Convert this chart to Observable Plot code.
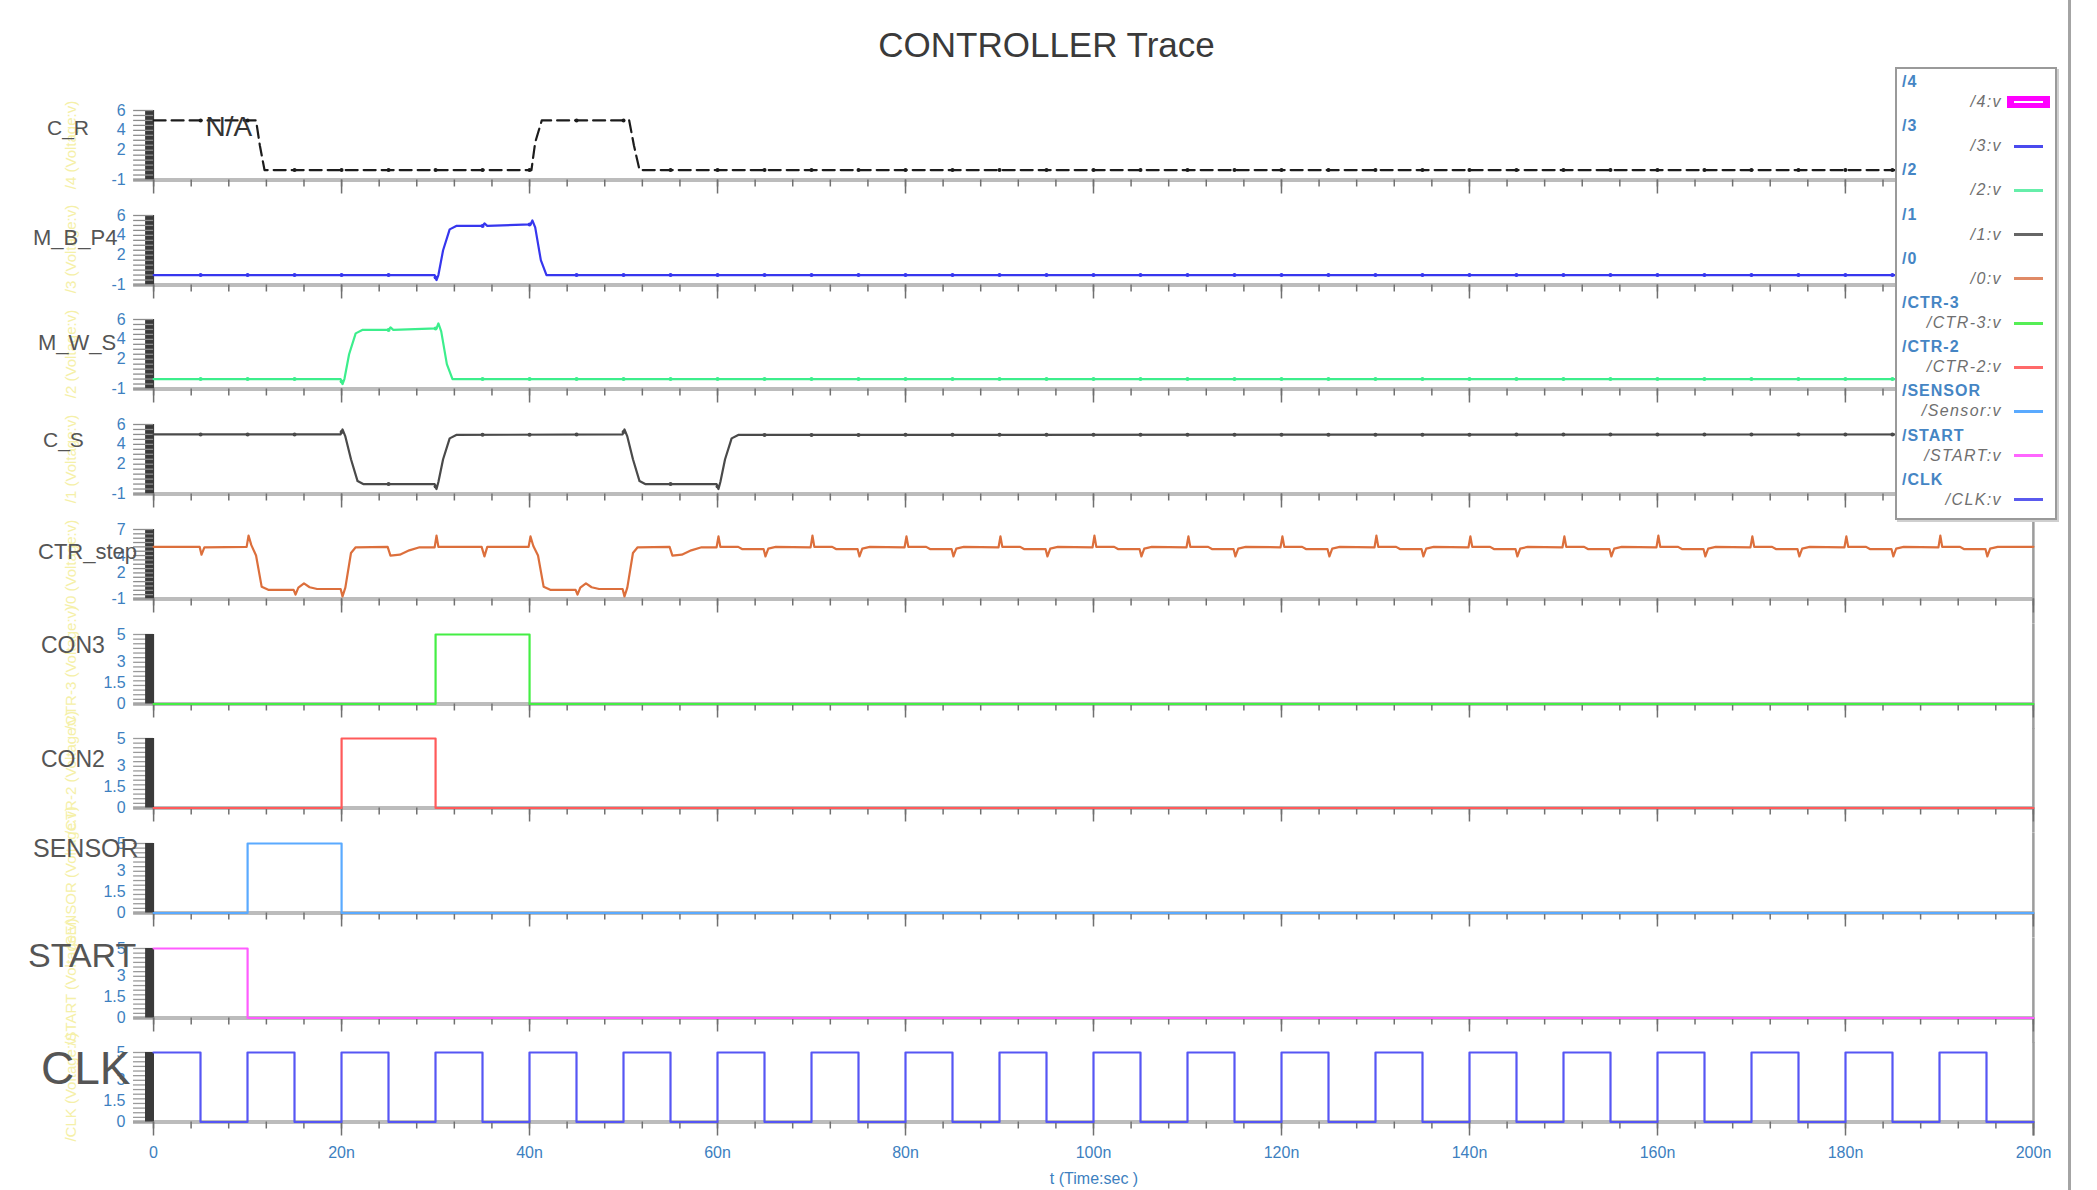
<!DOCTYPE html>
<html><head><meta charset="utf-8">
<script src="https://cdn.jsdelivr.net/npm/d3@7"></script>
<script src="https://cdn.jsdelivr.net/npm/@observablehq/plot@0.6"></script>
<style>
body{margin:0;background:#fff;font-family:"Liberation Sans",Arial,sans-serif;}
#root{position:relative;width:2097px;height:1190px;overflow:hidden;background:#fff;}
.abs{position:absolute;white-space:nowrap;line-height:1;}
</style></head><body><div id="root"></div>
<script>
// ---------------- DATA ----------------
const chartTitle = "CONTROLLER Trace";
const xAxisTitle = "t (Time:sec )";
const signalNames = ["C_R","M_B_P4","M_W_S","C_S","CTR_step","CON3","CON2","SENSOR","START","CLK"];
const legendHeads = ["/4","/3","/2","/1","/0","/CTR-3","/CTR-2","/SENSOR","/START","/CLK"];
const legendSubs  = ["/4:v","/3:v","/2:v","/1:v","/0:v","/CTR-3:v","/CTR-2:v","/Sensor:v","/START:v","/CLK:v"];

// time in ns, value in volts
const tCR = [0,10.9,11.3,11.8,40.2,40.6,41.3,50.6,51.1,51.7,200];
const vCR = [5,5,2.5,0,0,2.8,5,5,2.5,0,0];

const tMBP = [0,29.9,30.1,30.3,30.8,31.5,32.2,35,35.2,35.5,40.1,40.3,40.6,41.2,41.8,200];
const vMBP = [0,0,-0.5,0,2.5,4.6,4.95,4.95,5.2,4.95,5.1,5.5,4.8,1.5,0,0];

const tMWS = [0,19.9,20.1,20.3,20.8,21.5,22.2,25,25.2,25.5,30.1,30.3,30.6,31.2,31.8,200];
const vMWS = [0,0,-0.5,0,2.5,4.6,4.95,4.95,5.2,4.95,5.1,5.6,4.8,1.5,0,0];

const tCS = [0,19.9,20.1,20.4,21.0,21.7,22.3,29.9,30.1,30.3,30.8,31.5,32.2,49.9,50.1,50.4,51.0,51.7,52.3,59.9,60.1,60.3,60.8,61.5,62.2,200];
const vCS = [5,5,5.5,4.8,2.5,0.3,0,0,-0.5,0.2,2.5,4.6,4.95,5,5.5,4.8,2.5,0.3,0,0,-0.5,0.2,2.5,4.6,4.95,5];

const ctrPoints = [
  [0,5.0],[4.9,5.0],[5.1,4.1],[5.4,4.95],[9.9,5.0],[10.1,6.3],[10.4,5.2],[10.9,4.0],[11.5,0.4],[12.2,0.05],
  [14.9,0.05],[15.1,-0.5],[15.4,0.3],[16.0,0.8],[16.6,0.35],[17.4,0.15],[19.9,0.15],[20.1,-0.7],[20.4,0.3],[21.0,4.3],[21.5,4.95],
  [24.9,5.0],[25.2,4.0],[26.2,4.1],[27.2,4.6],[28.3,4.95],[29.9,4.95],[30.1,6.3],[30.3,5.0],[34.9,5.0],[35.2,3.9],[35.5,5.0],
  [39.9,5.0],[40.1,6.2],[40.4,5.1],[40.9,4.0],[41.5,0.4],[42.2,0.05],
  [44.9,0.05],[45.1,-0.5],[45.4,0.3],[46.0,0.8],[46.6,0.35],[47.4,0.15],[49.9,0.15],[50.1,-0.7],[50.4,0.3],[51.0,4.3],[51.5,4.95],
  [54.9,5.0],[55.2,4.0],[56.2,4.1],[57.2,4.6],[58.3,4.95],
  [59.9,4.95],[60.1,6.2],[60.3,5.0],[62.2,5.0],[62.6,4.75],[64.9,4.75],[65.1,3.9],[65.4,4.8],[66.2,5.0],
  [69.9,4.95],[70.1,6.3],[70.3,5.0],[72.2,5.0],[72.6,4.75],[74.9,4.75],[75.1,3.9],[75.4,4.8],[76.2,5.0],
  [79.9,4.95],[80.1,6.2],[80.3,5.0],[82.2,5.0],[82.6,4.75],[84.9,4.75],[85.1,3.9],[85.4,4.8],[86.2,5.0],
  [89.9,4.95],[90.1,6.2],[90.3,5.0],[92.2,5.0],[92.6,4.75],[94.9,4.75],[95.1,3.9],[95.4,4.8],[96.2,5.0],
  [99.9,4.95],[100.1,6.3],[100.3,5.0],[102.2,5.0],[102.6,4.75],[104.9,4.75],[105.1,3.9],[105.4,4.8],[106.2,5.0],
  [109.9,4.95],[110.1,6.2],[110.3,5.0],[112.2,5.0],[112.6,4.75],[114.9,4.75],[115.1,3.9],[115.4,4.8],[116.2,5.0],
  [119.9,4.95],[120.1,6.2],[120.3,5.0],[122.2,5.0],[122.6,4.75],[124.9,4.75],[125.1,3.9],[125.4,4.8],[126.2,5.0],
  [129.9,4.95],[130.1,6.3],[130.3,5.0],[132.2,5.0],[132.6,4.75],[134.9,4.75],[135.1,3.9],[135.4,4.8],[136.2,5.0],
  [139.9,4.95],[140.1,6.2],[140.3,5.0],[142.2,5.0],[142.6,4.75],[144.9,4.75],[145.1,3.9],[145.4,4.8],[146.2,5.0],
  [149.9,4.95],[150.1,6.2],[150.3,5.0],[152.2,5.0],[152.6,4.75],[154.9,4.75],[155.1,3.9],[155.4,4.8],[156.2,5.0],
  [159.9,4.95],[160.1,6.3],[160.3,5.0],[162.2,5.0],[162.6,4.75],[164.9,4.75],[165.1,3.9],[165.4,4.8],[166.2,5.0],
  [169.9,4.95],[170.1,6.2],[170.3,5.0],[172.2,5.0],[172.6,4.75],[174.9,4.75],[175.1,3.9],[175.4,4.8],[176.2,5.0],
  [179.9,4.95],[180.1,6.2],[180.3,5.0],[182.2,5.0],[182.6,4.75],[184.9,4.75],[185.1,3.9],[185.4,4.8],[186.2,5.0],
  [189.9,4.95],[190.1,6.3],[190.3,5.0],[192.2,5.0],[192.6,4.75],[194.9,4.75],[195.1,3.9],[195.4,4.8],[196.2,5.0],
  [200,5.0]
];

const tCON3 = [0,30,30,40,40,200];
const vCON3 = [0,0,5,5,0,0];
const tCON2 = [0,20,20,30,30,200];
const vCON2 = [0,0,5,5,0,0];
const tSENS = [0,10,10,20,20,200];
const vSENS = [0,0,5,5,0,0];
const tSTART = [0,10,10,200];
const vSTART = [5,5,0,0];
const tCLK = [0,5,5,10,10,15,15,20,20,25,25,30,30,35,35,40,40,45,45,50,50,55,55,60,60,65,65,70,70,75,75,80,80,85,85,90,90,95,95,100,
              100,105,105,110,110,115,115,120,120,125,125,130,130,135,135,140,140,145,145,150,150,155,155,160,160,165,165,170,170,175,175,180,180,185,185,190,190,195,195,200];
const vCLK = [5,5,0,0,5,5,0,0,5,5,0,0,5,5,0,0,5,5,0,0,5,5,0,0,5,5,0,0,5,5,0,0,5,5,0,0,5,5,0,0,
              5,5,0,0,5,5,0,0,5,5,0,0,5,5,0,0,5,5,0,0,5,5,0,0,5,5,0,0,5,5,0,0,5,5,0,0,5,5,0,0];

const glitchTimes = [5,10,15,20,25,30,35,40,45,50,55,60,65,70,75,80,85,90,95,100,105,110,115,120,125,130,135,140,145,150,155,160,165,170,175,180,185,190,195];
const naNote = [{t: 8.0, v: 4.3, label: "N/A"}];

const yTicksAnalog = [6,4,2,-1];
const yTicksCtr = [7,4,2,-1];
const yTicksDigital = [5,3,1.5,0];
const xTicksMajor = [0,20,40,60,80,100,120,140,160,180,200];
const xTicksMinor = [0,4,8,12,16,20,24,28,32,36,40,44,48,52,56,60,64,68,72,76,80,84,88,92,96,100,104,108,112,116,120,124,128,132,136,140,144,148,152,156,160,164,168,172,176,180,184,188,192,196,200];

// ---------------- STYLE / LAYOUT ----------------
const lineColors = ["#1c1c1c","#3636ee","#3cee8c","#4a4a4a","#dc6f3c","#44ee44","#ff5a5a","#5aaaff","#ff5cff","#5656f4"];
const legendColors = ["#ff00ff","#4a4aee","#66eeaa","#666666","#e08a66","#55ee55","#ff6a6a","#5aaaff","#ff66ff","#5a5aee"];
const labelSizes = [21,22,22,21,22,23,23,25,34,46];
const labelLeft = [47,33,38,43,38,41,41,33,28,41];
const labelDy = [17,23,24,15,23,11,21,5,7,16];

const W = 2097, X0 = 153, X1 = 2033;
const TOP0 = 110, PITCH = 104.7, PH = 69.5, MT = 10;
const root = document.getElementById("root");
const FONT = "'Liberation Sans', Arial, sans-serif";

function interp(ts, vs, t) {
  for (let j = 0; j < ts.length - 1; j++) {
    if (t >= ts[j] && t <= ts[j + 1]) {
      const f = ts[j + 1] === ts[j] ? 0 : (t - ts[j]) / (ts[j + 1] - ts[j]);
      return vs[j] + f * (vs[j + 1] - vs[j]);
    }
  }
  return vs[vs.length - 1];
}

const series = [
  {t: tCR, v: vCR, domain: [-1, 6], ticks: yTicksAnalog, dash: "12,6", glitch: true},
  {t: tMBP, v: vMBP, domain: [-1, 6], ticks: yTicksAnalog, glitch: true},
  {t: tMWS, v: vMWS, domain: [-1, 6], ticks: yTicksAnalog, glitch: true},
  {t: tCS, v: vCS, domain: [-1, 6], ticks: yTicksAnalog, glitch: true},
  {t: ctrPoints.map(d => d[0]), v: ctrPoints.map(d => d[1]), domain: [-1, 7], ticks: yTicksCtr},
  {t: tCON3, v: vCON3, domain: [0, 5], ticks: yTicksDigital},
  {t: tCON2, v: vCON2, domain: [0, 5], ticks: yTicksDigital},
  {t: tSENS, v: vSENS, domain: [0, 5], ticks: yTicksDigital},
  {t: tSTART, v: vSTART, domain: [0, 5], ticks: yTicksDigital},
  {t: tCLK, v: vCLK, domain: [0, 5], ticks: yTicksDigital}
];

// title
const title = document.createElement("div");
title.className = "abs";
title.textContent = chartTitle;
title.style.cssText += `left:0;width:${W - 4}px;text-align:center;top:27px;font-size:35px;color:#3a3a3a;font-family:${FONT};`;
root.appendChild(title);

series.forEach((s, i) => {
  const last = i === series.length - 1;
  const top = TOP0 + PITCH * i;
  const mb = last ? 62 : PITCH - PH - MT;
  const H = MT + PH + mb;
  const data = s.t.map((t, j) => ({t, v: s.v[j]}));
  const digital = s.domain[0] === 0;
  const minorStep = digital ? 1 / 3 : 0.5;
  const minorY = d3.range(s.domain[0], s.domain[1] + 1e-6, minorStep);
  const color = lineColors[i];

  const bar = Plot.ruleX([0], {stroke: "#3a3a3a", strokeWidth: 9, dx: -4});
  const ladder = Plot.axisY(minorY, {tickSize: 20, stroke: digital ? "#9a9a9a" : "#8c8c8c", strokeWidth: 1.3, tickFormat: () => "", label: null});
  const marks = [
    Plot.ruleY([s.domain[0]], {stroke: "#bcbcbc", strokeWidth: 4, insetLeft: -20}),
    Plot.ruleX([200], {stroke: "#9c9c9c", strokeWidth: 2.5, insetTop: -MT, insetBottom: last ? -14 : -mb}),
    ...(digital ? [ladder, bar] : [bar, ladder]),
    Plot.axisY(s.ticks, {tickSize: 0, tickPadding: 28, fill: "#3d7fc0", fontSize: 16, label: null, tickFormat: d => String(d)}),
    Plot.axisX(xTicksMinor, {tickSize: 7, stroke: "#707070", strokeWidth: 1.5, tickFormat: () => "", label: null}),
    Plot.axisX(xTicksMajor, {tickSize: 14, stroke: "#707070", strokeWidth: 1.5, tickPadding: 11, fill: "#3d7fc0", fontSize: 16, label: null,
      tickFormat: last ? (d => d === 0 ? "0" : d + "n") : (() => "")}),
    Plot.line(data, {x: "t", y: "v", stroke: color, strokeWidth: 2.2, strokeDasharray: s.dash || null})
  ];
  if (s.glitch) {
    const gd = glitchTimes.map(t => ({t, v: interp(s.t, s.v, t)}));
    marks.push(Plot.dot(gd, {x: "t", y: "v", r: 2, fill: color, stroke: "none"}));
  }
  if (i === 0) {
    marks.push(Plot.text(naNote, {x: "t", y: "v", text: "label", fontSize: 28, fill: "#333"}));
  }
  const svg = Plot.plot({
    width: W, height: H,
    marginLeft: X0, marginRight: W - X1, marginTop: MT, marginBottom: mb,
    x: {domain: [0, 200]},
    y: {domain: s.domain},
    style: {background: "transparent", overflow: "visible", fontFamily: FONT},
    marks
  });
  svg.style.position = "absolute";
  svg.style.left = "0px";
  svg.style.top = (top - MT) + "px";
  root.appendChild(svg);

  // faint rotated y label
  const ylab = document.createElement("div");
  ylab.className = "abs";
  ylab.textContent = `${legendHeads[i]} (Voltage:v)`;
  ylab.style.cssText += `left:70px;top:${top + PH / 2}px;font-size:15px;color:#f5f0a8;font-family:${FONT};transform:translate(-50%,-50%) rotate(-90deg);`;
  root.appendChild(ylab);

  // signal name label
  const lab = document.createElement("div");
  lab.className = "abs";
  lab.textContent = signalNames[i];
  lab.style.cssText += `left:${labelLeft[i]}px;top:${top + labelDy[i]}px;transform:translateY(-50%);font-size:${labelSizes[i]}px;color:#555;font-family:${FONT};`;
  root.appendChild(lab);
});

// x axis title
const xt = document.createElement("div");
xt.className = "abs";
xt.textContent = xAxisTitle;
xt.style.cssText += `left:1094px;top:1171px;transform:translateX(-50%);font-size:16px;color:#3d7fc0;font-family:${FONT};`;
root.appendChild(xt);

// window border
const border = document.createElement("div");
border.className = "abs";
border.style.cssText += "left:2068px;top:0;width:3px;height:1190px;background:#a4a4a4;";
root.appendChild(border);

// legend
const leg = document.createElement("div");
leg.className = "abs";
leg.style.cssText += "left:1895px;top:67px;width:158px;height:449px;border:2px solid #9a9a9a;background:#fff;box-shadow:2px 2px 0 #cfcfcf;";
root.appendChild(leg);
legendHeads.forEach((h, i) => {
  const hy = 82 + 44.2 * i, sy = 102 + 44.2 * i;
  const hd = document.createElement("div");
  hd.className = "abs";
  hd.textContent = h;
  hd.style.cssText += `left:1902px;top:${hy}px;transform:translateY(-50%);font-size:16px;font-weight:bold;letter-spacing:1px;color:#4585c4;font-family:${FONT};`;
  root.appendChild(hd);
  const sb = document.createElement("div");
  sb.className = "abs";
  sb.textContent = legendSubs[i];
  sb.style.cssText += `right:${W - 2002}px;top:${sy}px;transform:translateY(-50%);font-size:16px;letter-spacing:1.4px;font-style:italic;color:#6f6f6f;font-family:${FONT};`;
  root.appendChild(sb);
  const sw = document.createElement("div");
  sw.className = "abs";
  if (i === 0) {
    sw.style.cssText += `left:2007px;top:${sy - 6}px;width:43px;height:12px;background:${legendColors[i]};`;
    const inner = document.createElement("div");
    inner.className = "abs";
    inner.style.cssText += "left:7px;top:5px;width:29px;height:2px;background:#fff;";
    sw.appendChild(inner);
  } else {
    sw.style.cssText += `left:2014px;top:${sy - 1.5}px;width:29px;height:3px;background:${legendColors[i]};`;
  }
  root.appendChild(sw);
});
</script>
</body></html>
